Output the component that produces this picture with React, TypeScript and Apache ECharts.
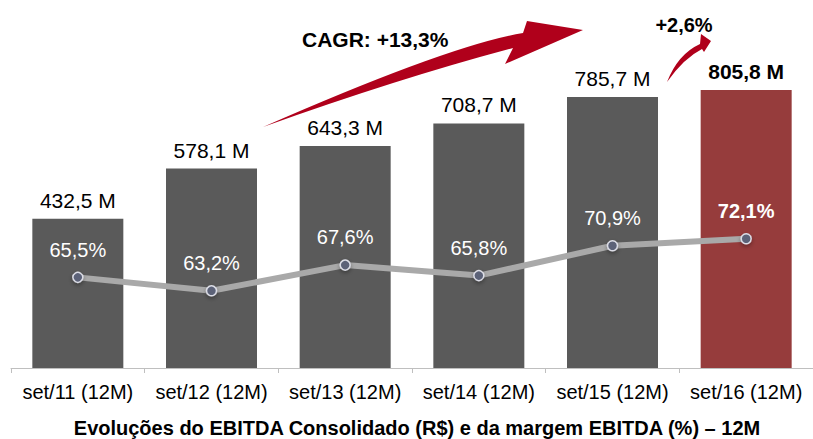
import React, { useEffect, useRef } from "react";
import * as echarts from "echarts";

const categories = ["set/11 (12M)", "set/12 (12M)", "set/13 (12M)", "set/14 (12M)", "set/15 (12M)", "set/16 (12M)"];
const ebitda = [432.5, 578.1, 643.3, 708.7, 785.7, 805.8];
const margin = [65.5, 63.2, 67.6, 65.8, 70.9, 72.1];
const cagrText = "CAGR: +13,3%";
const growthText = "+2,6%";
const titleText = "Evoluções do EBITDA Consolidado (R$) e da margem EBITDA (%) – 12M";

const FONT = "'Liberation Sans', Arial, sans-serif";

const fmt = (v: number, d = 1) => v.toFixed(d).replace(".", ",");

const bigArrow =
  "M 263 127 Q 450 45 523 33 L 527 21 L 583 30 L 505 64 L 513 48 Q 400 78 263 127 Z";
const smallArrow =
  "M 667 82 Q 678 54 700 44 L 701 34 L 711 41 L 704 52 L 702 49 Q 684 58 667 82 Z";

let registered = false;
function registerShapes() {
  if (registered) return;
  registered = true;
  echarts.graphic.registerShape("bigArrow", echarts.graphic.extendPath(bigArrow, {}) as any);
  echarts.graphic.registerShape("smallArrow", echarts.graphic.extendPath(smallArrow, {}) as any);
}

export default function App() {
  const ref = useRef<HTMLDivElement>(null);
  useEffect(() => {
    if (!ref.current) return;
    registerShapes();
    const chart = echarts.init(ref.current, null, { renderer: "svg" });
    const last = ebitda.length - 1;
    chart.setOption({
      animation: false,
      grid: { left: 11, top: 23, width: 809, height: 345, containLabel: false },
      xAxis: {
        type: "category",
        data: categories,
        axisLine: { lineStyle: { color: "#bfbfbf", width: 1 } },
        axisTick: { show: true, length: 5, lineStyle: { color: "#bfbfbf" } },
        axisLabel: {
          interval: 0,
          hideOverlap: false,
          fontSize: 20,
          color: "#000",
          margin: 14,
          fontFamily: FONT,
        },
      },
      yAxis: [
        { type: "value", min: 0, max: 1000, show: false, splitLine: { show: false } },
        { type: "value", min: 50, max: 109, show: false, splitLine: { show: false } },
      ],
      series: [
        {
          type: "bar",
          yAxisIndex: 0,
          barWidth: 91,
          data: ebitda.map((v, i) => ({
            value: v,
            itemStyle: { color: i === last ? "#963c3c" : "#5a5a5a" },
            label: i === last ? { fontWeight: "bold" } : undefined,
          })),
          label: {
            show: true,
            position: "top",
            distance: 8,
            fontSize: 21,
            color: "#000",
            fontFamily: FONT,
            formatter: (p: any) => fmt(p.value) + " M",
          },
        },
        {
          type: "line",
          yAxisIndex: 1,
          data: margin.map((v, i) => ({
            value: v,
            label: i === last ? { fontWeight: "bold" } : undefined,
          })),
          symbol: "circle",
          symbolSize: 10,
          lineStyle: { color: "#a9a9a9", width: 6 },
          itemStyle: {
            color: "#5b6278",
            borderColor: "#dcdde6",
            borderWidth: 1.5,
            shadowBlur: 4,
            shadowColor: "rgba(0,0,0,0.35)",
            shadowOffsetY: 2,
          },
          label: {
            show: true,
            position: "top",
            distance: 12,
            fontSize: 20,
            color: "#fff",
            fontFamily: FONT,
            formatter: (p: any) => fmt(p.value) + "%",
          },
          z: 5,
        },
      ],
      graphic: [
        { type: "bigArrow", x: 0, y: 0, style: { fill: "#b0001b" }, z: 10 },
        { type: "smallArrow", x: 0, y: 0, style: { fill: "#b0001b" }, z: 10 },
        {
          type: "text",
          x: 302,
          y: 39,
          style: {
            text: cagrText,
            fontSize: 21,
            fontWeight: "bold",
            fill: "#000",
            fontFamily: FONT,
            textVerticalAlign: "middle",
            verticalAlign: "middle",
          },
          z: 11,
        },
        {
          type: "text",
          x: 684,
          y: 25,
          style: {
            text: growthText,
            fontSize: 20,
            fontWeight: "bold",
            fill: "#000",
            fontFamily: FONT,
            align: "center",
            textAlign: "center",
            verticalAlign: "middle",
            textVerticalAlign: "middle",
          },
          z: 11,
        },
        {
          type: "text",
          x: 417,
          y: 428,
          style: {
            text: titleText,
            fontSize: 20,
            fontWeight: "bold",
            fill: "#000",
            fontFamily: FONT,
            align: "center",
            textAlign: "center",
            verticalAlign: "middle",
            textVerticalAlign: "middle",
          },
          z: 11,
        },
      ],
    });
    return () => chart.dispose();
  }, []);
  return (
    <div
      ref={ref}
      style={{ position: "fixed", left: 0, top: 0, width: 813, height: 439, background: "#fff" }}
    />
  );
}
